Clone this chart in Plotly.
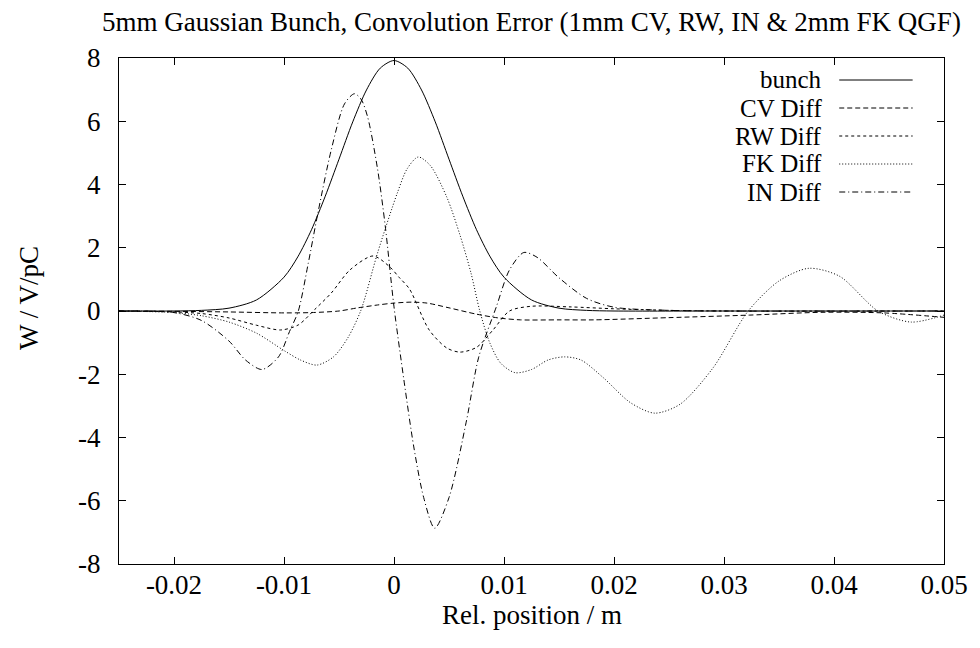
import plotly.graph_objects as go

# ---------------- data ----------------
bunch_x = [-0.025, -0.02, -0.0175, -0.015, -0.0125, -0.01, -0.00875, -0.0075, -0.00625, -0.005,
           -0.00375, -0.0025, -0.00125, 0.0, 0.00125, 0.0025, 0.00375, 0.005, 0.00625, 0.0075,
           0.00875, 0.01, 0.0125, 0.015, 0.0175, 0.02, 0.03, 0.04, 0.05]
bunch_y = [0.0, 0.0, 0.02, 0.09, 0.35, 1.07, 1.71, 2.57, 3.63, 4.80,
           5.98, 6.99, 7.68, 7.92, 7.68, 6.99, 5.98, 4.80, 3.63, 2.57,
           1.71, 1.07, 0.35, 0.09, 0.02, 0.0, 0.0, 0.0, 0.0]

cv_x = [-0.025, -0.02, -0.015, -0.01, -0.0075, -0.005, -0.0033, -0.0015, 0.0, 0.0016, 0.003,
        0.005, 0.0075, 0.0095, 0.0115, 0.015, 0.0182, 0.025, 0.0323, 0.039, 0.0445, 0.05]
cv_y = [0.0, -0.01, -0.03, -0.06, -0.05, 0.0, 0.1, 0.19, 0.25, 0.28, 0.25,
        0.1, -0.1, -0.22, -0.28, -0.28, -0.28, -0.21, -0.13, -0.04, -0.06, -0.2]

rw_x = [-0.025, -0.02, -0.0175, -0.015, -0.0125, -0.0103, -0.0087, -0.0072, -0.0057, -0.004,
        -0.0019, -0.0004, 0.0005, 0.0014, 0.0032, 0.0048, 0.006, 0.0075, 0.009, 0.0105,
        0.0125, 0.016, 0.02, 0.025, 0.03, 0.05]
rw_y = [0.0, -0.03, -0.08, -0.22, -0.45, -0.6, -0.44, 0.05, 0.57, 1.3,
        1.74, 1.4, 1.05, 0.7, -0.6, -1.17, -1.3, -1.15, -0.6, 0.0,
        0.15, 0.13, 0.07, 0.02, 0.0, 0.0]

fk_x = [-0.025, -0.02, -0.0175, -0.015, -0.0125, -0.01, -0.0085, -0.007, -0.0055, -0.0042,
        -0.003, -0.0015, 0.0003, 0.0012, 0.0022, 0.0033, 0.0048, 0.006, 0.007, 0.0078,
        0.0087, 0.0097, 0.011, 0.0125, 0.014, 0.0155, 0.017, 0.019, 0.0215, 0.0237,
        0.026, 0.029, 0.0322, 0.035, 0.0377, 0.0405, 0.044, 0.047, 0.05]
fk_y = [0.0, -0.05, -0.15, -0.35, -0.7, -1.25, -1.55, -1.71, -1.45, -0.85,
        0.03, 1.83, 3.73, 4.5, 4.87, 4.6, 3.6, 2.4, 1.2, 0.0,
        -1.0, -1.65, -1.95, -1.85, -1.55, -1.45, -1.55, -2.1, -2.9, -3.23,
        -2.95, -1.8, 0.0, 0.95, 1.35, 1.1, 0.0, -0.35, -0.13]

in_x = [-0.025, -0.02, -0.0175, -0.015, -0.0135, -0.012, -0.0105, -0.0095, -0.0087, -0.0078,
        -0.0069, -0.0057, -0.0045, -0.0036, -0.003, -0.0024, -0.0015, -0.0008, 0.0, 0.0009,
        0.0018, 0.0027, 0.0037, 0.005, 0.0066, 0.0077, 0.0093, 0.0105, 0.0118, 0.013,
        0.015, 0.0175, 0.02, 0.025, 0.03, 0.05]
in_y = [0.0, -0.05, -0.3, -0.95, -1.55, -1.85, -1.45, -0.65, 0.0, 1.5,
        3.13, 5.1, 6.55, 6.87, 6.7, 6.14, 4.5, 2.7, 0.13, -2.18,
        -4.3, -5.9, -6.87, -5.9, -3.45, -1.46, 0.13, 1.3, 1.85, 1.7,
        1.05, 0.4, 0.12, 0.02, 0.0, 0.0]

series_names = ["bunch", "CV Diff", "RW Diff", "FK Diff", "IN Diff"]

x_tickvals = [-0.02, -0.01, 0.0, 0.01, 0.02, 0.03, 0.04, 0.05]
x_ticktext = ["-0.02", "-0.01", "0", "0.01", "0.02", "0.03", "0.04", "0.05"]
y_tickvals = [-8, -6, -4, -2, 0, 2, 4, 6, 8]
y_ticktext = ["-8", "-6", "-4", "-2", "0", "2", "4", "6", "8"]

title_text = "5mm Gaussian Bunch, Convolution Error (1mm CV, RW, IN & 2mm FK QGF)"
x_label = "Rel. position / m"
y_label = "W / V/pC"

# ---------------- styling ----------------
FONT = "Liberation Serif, Times New Roman, serif"
FS = 27
KEY_FS = 25
dashes = ["solid", "5px,3px", "3px,3px", "1px,2px", "6px,3px,1px,3px"]
xs = [bunch_x, cv_x, rw_x, fk_x, in_x]
ys = [bunch_y, cv_y, rw_y, fk_y, in_y]

fig = go.Figure()
for name, x, y, d in zip(series_names, xs, ys, dashes):
    fig.add_trace(go.Scatter(
        x=x, y=y, mode="lines", name=name, showlegend=False,
        line=dict(color="black", width=1, dash=d, shape="spline", smoothing=0.8),
    ))

# gnuplot-style key: right-aligned text followed by line sample
annotations = []
shapes = []
row_y0 = (564 - 80) / 506
row_step = 28 / 506
for i, (name, d) in enumerate(zip(series_names, dashes)):
    yy = row_y0 - i * row_step
    annotations.append(dict(
        text=name, x=0.855, y=yy, xref="paper", yref="paper",
        xanchor="right", yanchor="middle", showarrow=False,
        font=dict(family=FONT, size=KEY_FS, color="black"),
    ))
    shapes.append(dict(
        type="line", xref="paper", yref="paper", x0=0.873, x1=0.962, y0=yy, y1=yy,
        line=dict(color="black", width=1, dash=d),
    ))

annotations.append(dict(
    text=x_label, x=0.5, y=-0.101, xref="paper", yref="paper",
    xanchor="center", yanchor="middle", showarrow=False,
    font=dict(family=FONT, size=FS, color="black"),
))
annotations.append(dict(
    text=y_label, x=-0.109, y=0.526, xref="paper", yref="paper",
    xanchor="center", yanchor="middle", showarrow=False, textangle=-90,
    font=dict(family=FONT, size=FS, color="black"),
))

fig.update_layout(
    width=980, height=648,
    margin=dict(l=119, r=26, t=58, b=84),
    paper_bgcolor="white", plot_bgcolor="white",
    font=dict(family=FONT, size=FS, color="black"),
    title=dict(text=title_text, x=0.5, xref="paper", y=1 - 22 / 648, yref="container",
               xanchor="center", yanchor="middle",
               font=dict(family=FONT, size=FS, color="black")),
    annotations=annotations,
    shapes=shapes,
    xaxis=dict(range=[-0.025, 0.05], tickvals=x_tickvals, ticktext=x_ticktext,
               showgrid=False, zeroline=False, showline=True, linecolor="black", linewidth=1,
               mirror="ticks", ticks="inside", ticklen=7, tickcolor="black", tickwidth=1,
               ticklabelstandoff=-3,
               tickfont=dict(family=FONT, size=FS, color="black")),
    yaxis=dict(range=[-8, 8], tickvals=y_tickvals, ticktext=y_ticktext,
               showgrid=False, zeroline=False, showline=True, linecolor="black", linewidth=1,
               mirror="ticks", ticks="inside", ticklen=7, tickcolor="black", tickwidth=1,
               ticklabelstandoff=12,
               tickfont=dict(family=FONT, size=FS, color="black")),
)

fig.write_html("out.html")
